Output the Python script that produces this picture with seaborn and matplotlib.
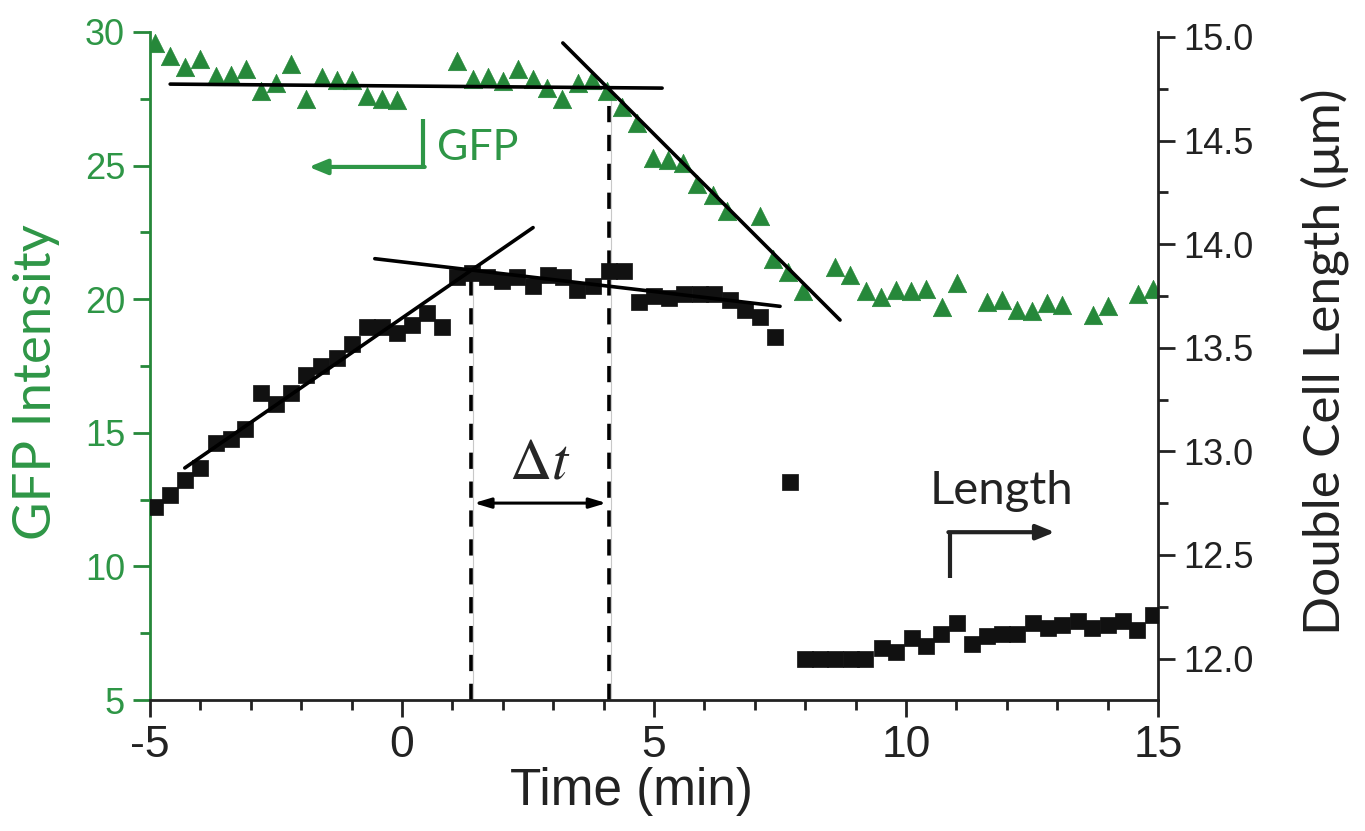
import numpy as np
import pandas as pd
import matplotlib
matplotlib.use('Agg')
import matplotlib.pyplot as plt
from matplotlib.ticker import MultipleLocator
import seaborn as sns

# GFP intensity (left axis)
gfp_time = [-4.9, -4.6, -4.31, -4.0, -3.69, -3.39, -3.1, -2.8, -2.5, -2.2, -1.9, -1.59, -1.29, -0.99,
            -0.69, -0.4, -0.1, 1.09, 1.4, 1.71, 2.0, 2.3, 2.6, 2.88, 3.17, 3.5, 3.77, 4.07, 4.37, 4.66,
            4.98, 5.28, 5.58, 5.85, 6.17, 6.45, 7.1, 7.36, 7.66, 7.96, 8.59, 8.89, 9.21, 9.5, 9.8, 10.1,
            10.4, 10.71, 11.01, 11.6, 11.9, 12.2, 12.5, 12.8, 13.1, 13.7, 14.0, 14.6, 14.9]
gfp_value = [29.6, 29.1, 28.7, 29.0, 28.35, 28.4, 28.6, 27.8, 28.1, 28.8, 27.5, 28.3, 28.2, 28.2,
             27.6, 27.5, 27.45, 28.9, 28.24, 28.3, 28.17, 28.6, 28.24, 27.9, 27.5, 28.1, 28.2, 27.8, 27.2, 26.6,
             25.3, 25.2, 25.1, 24.3, 23.9, 23.3, 23.1, 21.5, 21.0, 20.3, 21.2, 20.9, 20.3, 20.1, 20.35, 20.3,
             20.4, 19.7, 20.6, 19.9, 19.97, 19.6, 19.56, 19.85, 19.8, 19.4, 19.75, 20.2, 20.4]

# double cell length (right axis)
len_time = [-4.9, -4.6, -4.31, -4.0, -3.69, -3.39, -3.12, -2.8, -2.5, -2.2, -1.9, -1.6, -1.29, -0.99,
            -0.69, -0.4, -0.1, 0.2, 0.5, 0.79, 1.09, 1.39, 1.69, 1.98, 2.28, 2.6, 2.9, 3.19, 3.47, 3.79,
            4.1, 4.4, 4.7, 5.0, 5.3, 5.6, 5.91, 6.19, 6.51, 6.8, 7.1, 7.4, 7.7, 8.0, 8.29, 8.59, 8.9, 9.19,
            9.52, 9.8, 10.12, 10.4, 10.7, 11.01, 11.31, 11.6, 11.9, 12.2, 12.52, 12.82, 13.1, 13.41, 13.69,
            14.0, 14.3, 14.58, 14.9]
len_value = [12.73, 12.79, 12.86, 12.92, 13.04, 13.06, 13.11, 13.28, 13.23, 13.28, 13.37, 13.41, 13.45, 13.52,
             13.60, 13.60, 13.57, 13.61, 13.67, 13.60, 13.84, 13.86, 13.84, 13.82, 13.84, 13.80, 13.85, 13.84,
             13.78, 13.80, 13.87, 13.87, 13.72, 13.75, 13.74, 13.76, 13.76, 13.76, 13.73, 13.68, 13.65, 13.55,
             12.85, 12.0, 12.0, 12.0, 12.0, 12.0, 12.05, 12.03, 12.1, 12.06, 12.12, 12.17, 12.07, 12.11, 12.12,
             12.12, 12.17, 12.15, 12.16, 12.18, 12.15, 12.16, 12.18, 12.14, 12.21]

# linear fits (end points)
gfp_flat_t, gfp_flat_y = [-4.6, 5.16], [28.05, 27.9]
gfp_drop_t, gfp_drop_y = [3.19, 8.69], [29.59, 19.22]
len_rise_t, len_rise_y = [-4.31, 2.6], [12.92, 14.08]
len_flat_t, len_flat_y = [-0.54, 7.5], [13.93, 13.70]

# onsets: length stops growing, GFP starts dropping
t_len_stop, gfp_at_len_stop = 1.37, 21.0
t_gfp_drop, gfp_at_gfp_drop = 4.11, 27.9

gfp = pd.DataFrame({'time': gfp_time, 'gfp': gfp_value})
length = pd.DataFrame({'time': len_time, 'length': len_value})

sns.set_style('ticks')
plt.rcParams['font.family'] = ['Liberation Sans', 'DejaVu Sans']
plt.rcParams['mathtext.fontset'] = 'stix'
plt.rcParams['axes.unicode_minus'] = False

GREEN = '#26883a'
TXT_GREEN = '#2e9646'
myriad = ['Lato', 'DejaVu Sans']

fig = plt.figure(figsize=(13.65, 8.31), dpi=100)
ax = fig.add_axes([0.1099, 0.1576, 0.7385, 0.8039])
ax2 = ax.twinx()

sns.scatterplot(data=gfp, x='time', y='gfp', ax=ax, marker='^', s=175, color=GREEN,
                edgecolor=GREEN, linewidth=0.5, zorder=3)
sns.scatterplot(data=length, x='time', y='length', ax=ax2, marker='s', s=125, color='#111111',
                edgecolor='#111111', linewidth=0.5, zorder=3)

# fit lines
ax.plot(gfp_flat_t, gfp_flat_y, color='black', lw=2.6, zorder=4)
ax.plot(gfp_drop_t, gfp_drop_y, color='black', lw=2.6, zorder=4)
ax2.plot(len_rise_t, len_rise_y, color='black', lw=2.6, zorder=4)
ax2.plot(len_flat_t, len_flat_y, color='black', lw=2.6, zorder=4)

# dashed markers of the two onsets
for t0, top in [(t_len_stop, gfp_at_len_stop), (t_gfp_drop, gfp_at_gfp_drop)]:
    ax.plot([t0 + 0.03, t0 + 0.03], [5, top], color='#c8c8c8', lw=0.8, zorder=2)
    ax.plot([t0, t0], [5, top], color='black', lw=2.6, linestyle=(0, (4.5, 3.5)), zorder=2)

# delta t
ax.annotate('', xy=(t_gfp_drop, 12.37), xytext=(t_len_stop, 12.37),
            arrowprops=dict(arrowstyle='<|-|>,head_length=1.0,head_width=0.3', color='black', lw=2.2))
ax.text((t_len_stop + t_gfp_drop) / 2, 13.85, r'$\Delta t$', fontsize=42, ha='center', va='center')

# GFP label with arrow to left axis
ax.plot([0.417, 0.417], [26.75, 24.95], color=TXT_GREEN, lw=3, solid_capstyle='butt')
ax.annotate('', xy=(-1.85, 24.95), xytext=(0.45, 24.95),
            arrowprops=dict(arrowstyle='-|>,head_length=1.1,head_width=0.45', color=TXT_GREEN, lw=3,
                            shrinkA=0, shrinkB=0))
ax.text(0.7, 25.65, 'GFP', color=TXT_GREEN, fontsize=31, family=myriad, ha='left', va='center')

# Length label with arrow to right axis
ax2.plot([10.87, 10.87], [12.39, 12.61], color='#222222', lw=3, solid_capstyle='butt')
ax2.annotate('', xy=(12.95, 12.61), xytext=(10.84, 12.61),
             arrowprops=dict(arrowstyle='-|>,head_length=1.1,head_width=0.45', color='#222222', lw=3,
                             shrinkA=0, shrinkB=0))
ax2.text(11.9, 12.81, 'Length', color='#222222', fontsize=34, family=myriad, ha='center', va='center')

# axes
ax.set_xlim(-5, 15)
ax.set_ylim(5, 30)
ax2.set_ylim(11.8, 15.024)
ax.xaxis.set_major_locator(MultipleLocator(5))
ax.xaxis.set_minor_locator(MultipleLocator(1))
ax.yaxis.set_major_locator(MultipleLocator(5))
ax.yaxis.set_minor_locator(MultipleLocator(2.5))
ax2.yaxis.set_minor_locator(MultipleLocator(0.25))
ax2.set_yticks([12.0, 12.5, 13.0, 13.5, 14.0, 14.5, 15.0])
ax2.set_yticklabels(['12.0', '12.5', '13.0', '13.5', '14.0', '14.5', '15.0'])

for a in (ax, ax2):
    a.spines['top'].set_visible(False)
    for s in a.spines.values():
        s.set_linewidth(2)
ax.spines['right'].set_visible(False)
ax.spines['left'].set_color(GREEN)
ax2.spines['left'].set_visible(False)
ax2.spines['bottom'].set_visible(False)
ax2.spines['right'].set_color('#222222')
ax.spines['bottom'].set_color('#222222')

ax.tick_params(axis='x', which='major', length=12, width=2, color='#222222', labelcolor='#222222',
               labelsize=32, pad=6)
ax.tick_params(axis='x', which='minor', length=7, width=2, color='#222222')
ax.tick_params(axis='y', which='major', length=12, width=2, color=GREEN, labelcolor=TXT_GREEN,
               labelsize=26, pad=6)
ax.tick_params(axis='y', which='minor', length=7, width=2, color=GREEN)
ax2.tick_params(axis='y', which='major', length=12, width=2, color='#222222', labelcolor='#222222',
                labelsize=26, pad=6)
ax2.tick_params(axis='y', which='minor', length=7, width=2, color='#222222')

ax.set_xlabel('Time (min)', fontsize=37, color='#222222')
ax.set_ylabel('GFP Intensity', fontsize=38, family=myriad, color=TXT_GREEN)
ax2.set_ylabel('Double Cell Length (\u03bcm)', fontsize=37, family=myriad, color='#222222')
ax.xaxis.set_label_coords(0.478, -0.1)
ax.yaxis.set_label_coords(-0.089, 0.476)
ax2.yaxis.set_label_coords(1.141, 0.506)

fig.savefig('out.png', dpi=100)
